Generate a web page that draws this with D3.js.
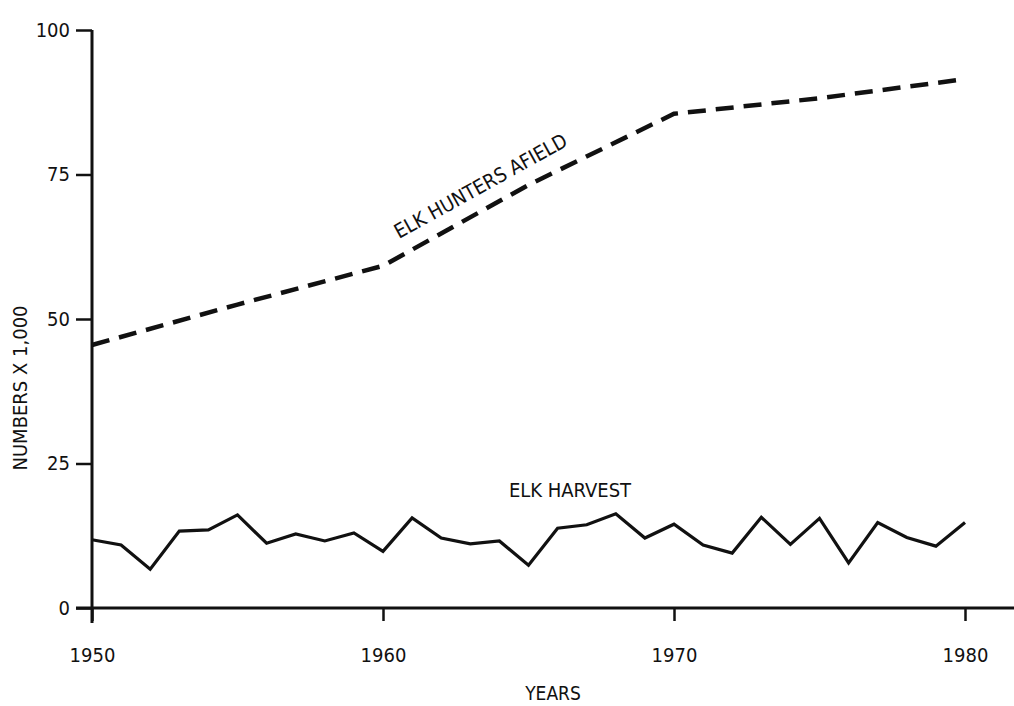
<!DOCTYPE html>
<html>
<head>
<meta charset="utf-8">
<script src="https://cdn.jsdelivr.net/npm/d3@7"></script>
<style>
  body { margin: 0; background: #fff; }
  text { font-family: "DejaVu Sans Condensed", "Liberation Sans Narrow", sans-serif; fill: #111; }
</style>
</head>
<body>
<div id="chart"></div>
<script>
// data
const harvestYears = d3.range(1950, 1981);
const harvestValues = [11.8, 10.9, 6.7, 13.3, 13.5, 16.1, 11.2, 12.8, 11.6, 13.0,
  9.8, 15.6, 12.1, 11.1, 11.6, 7.4, 13.8, 14.4, 16.3, 12.1,
  14.5, 10.9, 9.5, 15.7, 11.0, 15.5, 7.8, 14.8, 12.2, 10.7, 14.8];
const hunterYears = [1950, 1955, 1960, 1965, 1970, 1975, 1980];
const hunterValues = [45.5, 52.5, 59.2, 73.2, 85.5, 88.2, 91.5];
const yTicks = [0, 25, 50, 75, 100];
const xTicks = [1950, 1960, 1970, 1980];

const svgWidth = 1014;
const svgHeight = 706;
const svg = d3.select('#chart')
  .append('svg')
  .attr('width', svgWidth)
  .attr('height', svgHeight);

const margin = { top: 30, right: 0, bottom: 98, left: 92 };
const x = d3.scaleLinear().domain([1950, 1980]).range([margin.left, 965]);
const y = d3.scaleLinear().domain([0, 100]).range([svgHeight - margin.bottom, margin.top]);

// y軸
const yAxis = svg.append('g')
  .attr('transform', `translate(${margin.left},0)`)
  .call(d3.axisLeft(y).tickValues(yTicks).tickSize(16).tickPadding(6));
yAxis.select('.domain').remove();
yAxis.selectAll('line').attr('stroke', '#111').attr('stroke-width', 2.5);
yAxis.selectAll('text').style('font-size', '20px');

svg.append('line')
  .attr('x1', margin.left).attr('x2', margin.left)
  .attr('y1', y(100)).attr('y2', y(0) + 15)
  .attr('stroke', '#111').attr('stroke-width', 3);

// x軸
const xAxis = svg.append('g')
  .attr('transform', `translate(0,${y(0)})`)
  .call(d3.axisBottom(x).tickValues(xTicks).tickFormat(d3.format('d')).tickSize(13).tickPadding(27));
xAxis.select('.domain').remove();
xAxis.selectAll('line').attr('stroke', '#111').attr('stroke-width', 2.5);
xAxis.selectAll('text').style('font-size', '20px');

svg.append('line')
  .attr('x1', margin.left - 16).attr('x2', svgWidth)
  .attr('y1', y(0)).attr('y2', y(0))
  .attr('stroke', '#111').attr('stroke-width', 3);

// lines
const harvestLine = d3.line()
  .x((d, i) => x(harvestYears[i]))
  .y(d => y(d));
svg.append('path')
  .datum(harvestValues)
  .attr('d', harvestLine)
  .attr('fill', 'none')
  .attr('stroke', '#111')
  .attr('stroke-width', 3.2)
  .attr('stroke-linejoin', 'miter');

const hunterLine = d3.line()
  .x((d, i) => x(hunterYears[i]))
  .y(d => y(d));
svg.append('path')
  .datum(hunterValues)
  .attr('d', hunterLine)
  .attr('fill', 'none')
  .attr('stroke', '#111')
  .attr('stroke-width', 4.5)
  .attr('stroke-dasharray', '18,10');

// labels
svg.append('text')
  .attr('transform', 'translate(484,192) rotate(-29)')
  .attr('text-anchor', 'middle')
  .style('font-size', '20px')
  .text('ELK HUNTERS AFIELD');

svg.append('text')
  .attr('x', 570)
  .attr('y', 497)
  .attr('text-anchor', 'middle')
  .style('font-size', '20px')
  .text('ELK HARVEST');

svg.append('text')
  .attr('x', 553)
  .attr('y', 700)
  .attr('text-anchor', 'middle')
  .style('font-size', '19px')
  .text('YEARS');

svg.append('text')
  .attr('transform', 'translate(27,388) rotate(-90)')
  .attr('text-anchor', 'middle')
  .style('font-size', '20px')
  .text('NUMBERS X 1,000');
</script>
</body>
</html>
